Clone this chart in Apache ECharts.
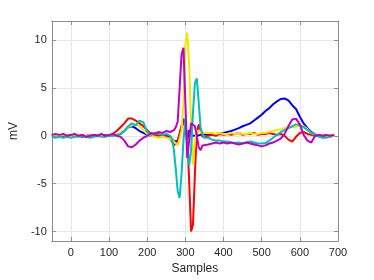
<!DOCTYPE html>
<html>
<head>
<meta charset="utf-8">
<script src="https://cdn.jsdelivr.net/npm/echarts@6/dist/echarts.min.js"></script>
<style>html,body{margin:0;padding:0;background:#fff}#c{width:374px;height:280px}</style>
</head>
<body>
<div id="c"></div>
<script>
const samples = [-50,-40,-30,-20,-10,0,10,20,30,40,50,60,70,80,90,100,110,120,130,140,150,160,170,180,190,200,210,220,230,240,250,260,
  265,270,275,280,285,290,295,300,305,310,315,320,325,330,335,340,345,350,
  360,370,380,390,400,410,420,430,440,450,460,470,480,490,500,510,520,530,540,550,560,570,580,590,600,610,620,630,640,650,660,670,680,690];

const blueVals = [0.1,0.0,0.1,0.0,-0.1,0.0,0.1,0.0,-0.1,0.0,0.1,0.0,0.0,0.1,0.0,0.1,0.0,0.1,0.2,0.5,0.9,1.0,0.8,0.5,0.3,0.1,0.0,0.0,0.1,0.0,0.0,-0.1,
  -0.3,-0.6,-0.8,-0.5,0.2,1.0,1.8,0.8,-0.4,0.6,0.3,0.0,-0.2,0.0,0.1,0.1,0.1,0.2,
  0.15,0.2,0.2,0.25,0.3,0.4,0.5,0.65,0.8,1.0,1.15,1.3,1.6,1.9,2.2,2.6,2.9,3.3,3.6,3.85,3.9,3.7,3.2,2.8,2.0,1.3,0.8,0.4,0.15,0.0,0.1,0.0,-0.1,0.0];

const redVals = [0.0,0.1,0.0,-0.1,0.0,0.1,0.0,0.0,0.1,-0.1,0.0,0.1,0.0,0.0,0.1,0.0,0.2,0.5,0.9,1.3,1.8,1.8,1.6,1.3,1.0,0.6,0.2,0.0,0.0,0.1,-0.1,-0.3,
  -0.6,-1.0,-1.1,-0.6,0.2,1.0,1.4,1.0,0.0,-4.8,-10.0,-9.3,-4.0,0.3,1.2,0.6,-0.1,-0.2,
  0.0,0.1,0.0,0.2,0.1,0.2,0.1,0.2,0.3,0.1,0.2,0.2,0.3,0.1,0.2,0.2,0.3,0.2,0.1,0.2,0.0,-0.4,-0.6,-0.1,0.3,0.4,0.2,0.1,0.0,0.1,0.0,-0.1,0.0,0.0];

const yellowVals = [0.1,0.0,0.0,0.1,0.0,-0.1,0.0,0.1,0.0,0.0,0.1,0.0,-0.1,0.0,0.0,0.1,0.0,0.1,0.3,0.6,0.9,1.1,1.2,1.0,0.6,0.2,0.0,-0.1,-0.2,-0.1,-0.2,-0.3,
  -0.4,-0.6,-0.8,-1.0,-0.9,0.5,3.5,9.5,10.8,7.5,1.0,-3.0,-0.5,0.5,0.5,0.4,0.3,0.3,
  0.3,0.3,0.2,0.3,0.2,0.2,0.3,0.2,0.3,0.2,0.2,0.3,0.2,0.2,0.3,0.3,0.4,0.5,0.6,0.7,0.8,0.9,0.9,0.9,1.1,1.0,0.7,0.3,0.1,0.0,0.1,0.0,-0.1,0.0];

const cyanVals = [-0.1,-0.2,-0.1,-0.2,-0.1,-0.2,-0.1,-0.1,0.0,-0.1,-0.2,-0.1,0.0,-0.1,-0.1,0.0,0.0,0.1,0.2,0.5,1.0,1.3,1.1,1.6,1.4,0.4,0.1,0.3,0.2,0.1,0.2,0.0,
  -0.3,-1.5,-3.5,-5.8,-6.5,-4.0,-0.5,1.8,-1.0,-3.1,-1.5,2.5,5.5,6.0,3.5,0.8,0.2,-0.2,
  -0.2,-0.4,-0.5,-0.5,-0.6,-0.6,-0.7,-0.75,-0.7,-0.8,-0.7,-0.6,-0.7,-0.8,-0.8,-0.75,-0.5,-0.2,0.1,0.4,0.6,0.8,1.0,1.2,1.1,0.9,0.6,0.3,0.1,-0.1,-0.2,-0.2,0.0,0.1];

const magentaVals = [0.1,0.2,0.1,0.2,0.0,0.1,0.2,0.0,0.1,-0.1,0.0,0.1,0.0,0.2,0.0,0.1,0.2,0.0,-0.1,-0.5,-1.1,-1.2,-0.9,-0.5,-0.2,0.0,0.3,0.2,0.4,0.3,0.5,0.4,
  0.5,0.6,0.9,1.5,5.0,8.5,9.2,3.5,-2.3,-0.5,1.3,1.2,1.0,0.0,-1.2,-1.5,-1.0,-0.8,
  -0.9,-0.8,-0.7,-0.8,-0.7,-0.8,-0.7,-0.8,-0.9,-0.8,-0.7,-0.8,-0.9,-1.0,-1.1,-1.0,-0.8,-0.7,-0.5,-0.3,0.2,1.0,1.7,1.8,1.2,0.1,-0.5,-0.7,0.0,0.1,0.0,0.1,0.0,0.1];

const xTicks = [0,100,200,300,400,500,600,700];
const yTicks = [-10,-5,0,5,10];

const seriesDefs = [
  {name:'b', vals: blueVals, color:'#0000ff'},
  {name:'r', vals: redVals, color:'#ff0000'},
  {name:'y', vals: yellowVals, color:'#f2e600'},
  {name:'c', vals: cyanVals, color:'#00bfbf'},
  {name:'m', vals: magentaVals, color:'#bf00bf'}
];

const axisColor = '#8c8c8c';
const labelColor = '#262626';
const font = 'Liberation Sans, Arial, sans-serif';

function xAx(pos, showLabel, name) {
  return {
    type:'value', position:pos, min:-50, max:700,
    name: name || '', nameLocation:'middle', nameGap:19,
    nameTextStyle:{color:labelColor, fontSize:12, fontFamily:font},
    axisLine:{show:true, onZero:false, lineStyle:{color:axisColor, width:1}},
    axisTick:{show:true, inside:true, length:4, customValues:xTicks, lineStyle:{color:axisColor}},
    axisLabel:{show:showLabel, customValues:xTicks, color:labelColor, fontSize:11, fontFamily:font, margin:6},
    splitLine:{show:showLabel, lineStyle:{color:'#e6e6e6', width:1}}
  };
}
function yAx(pos, showLabel, name) {
  return {
    type:'value', position:pos, min:-11, max:12,
    name: name || '', nameLocation:'middle', nameGap:28, nameRotate:90,
    nameTextStyle:{color:labelColor, fontSize:12, fontFamily:font},
    axisLine:{show:true, onZero:false, lineStyle:{color:axisColor, width:1}},
    axisTick:{show:true, inside:true, length:4, customValues:yTicks, lineStyle:{color:axisColor}},
    axisLabel:{show:showLabel, customValues:yTicks, color:labelColor, fontSize:11, fontFamily:font, margin:5},
    splitLine:{show:showLabel, lineStyle:{color:'#e6e6e6', width:1}}
  };
}

const chart = echarts.init(document.getElementById('c'), null, {renderer:'canvas'});
chart.setOption({
  animation:false,
  backgroundColor:'#fff',
  grid:{left:48, right:36, top:21, bottom:36, containLabel:false},
  xAxis:[xAx('bottom', true, 'Samples'), xAx('top', false)],
  yAxis:[yAx('left', true, 'mV'), yAx('right', false)],
  series: seriesDefs.map(d => ({
    type:'line', name:d.name, xAxisIndex:0, yAxisIndex:0,
    data: samples.map((s,i) => [s, d.vals[i]]),
    showSymbol:false, symbol:'none',
    lineStyle:{color:d.color, width:2},
    itemStyle:{color:d.color}
  }))
});
</script>
</body>
</html>
